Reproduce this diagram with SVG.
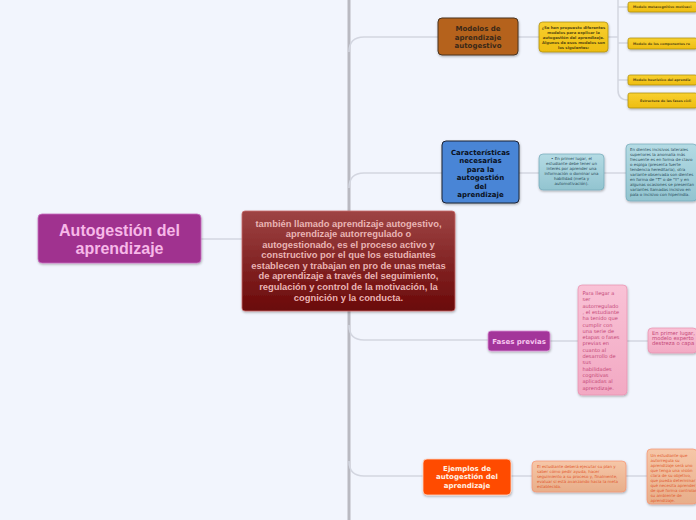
<svg xmlns="http://www.w3.org/2000/svg" width="696" height="520" viewBox="0 0 696 520">
<defs>
<linearGradient id="gRed" x1="0" y1="0" x2="0" y2="1"><stop offset="0" stop-color="#9e4444"/><stop offset="1" stop-color="#6a0808"/></linearGradient>
<linearGradient id="gTeal" x1="0" y1="0" x2="0" y2="1"><stop offset="0" stop-color="#b4dbe4"/><stop offset="1" stop-color="#92c4d0"/></linearGradient>
<linearGradient id="gPink" x1="0" y1="0" x2="0" y2="1"><stop offset="0" stop-color="#f9c2d6"/><stop offset="1" stop-color="#f2a9c3"/></linearGradient>
<linearGradient id="gPeach" x1="0" y1="0" x2="0" y2="1"><stop offset="0" stop-color="#f6c7a8"/><stop offset="1" stop-color="#e8ae8a"/></linearGradient>
<linearGradient id="gYel" x1="0" y1="0" x2="0" y2="1"><stop offset="0" stop-color="#f8d030"/><stop offset="1" stop-color="#eebd10"/></linearGradient>
<filter id="sh" x="-10%" y="-10%" width="130%" height="140%"><feDropShadow dx="0.5" dy="1.2" stdDeviation="0.8" flood-color="#000" flood-opacity="0.3"/></filter>
</defs>
<style>
.c{fill:none;stroke:#d3d6e0;stroke-width:1.5}
.t{fill:none;stroke:#b9b9c1;stroke-width:3}
.b{filter:url(#sh)}
.ds{font-family:"DejaVu Sans","Liberation Sans",sans-serif}
.ls{font-family:"Liberation Sans",Arial,sans-serif}
.cen{text-anchor:middle}
.s4{font-size:4px}
.yl{font-size:3.8px;font-weight:bold;fill:#5a4a10}
.yc{font-size:3.3px;font-weight:bold;fill:#5a4a10}
</style>
<rect width="696" height="520" fill="#f2f5fd"/>
<g id="connectors">
<line class="t" x1="349" y1="0" x2="349" y2="520"/>
<line class="c" x1="201" y1="239" x2="242" y2="239"/>
<path class="c" d="M349,52 Q349,37 364,37 H438"/>
<path class="c" d="M349,188 Q349,173 364,173 H442"/>
<path class="c" d="M349,325 Q349,340 364,340 H488"/>
<path class="c" d="M349,461 Q349,476 364,476 H423"/>
<line class="c" x1="518" y1="37" x2="539" y2="37"/>
<line class="c" x1="608" y1="37" x2="618" y2="37"/>
<path class="c" d="M618,0 V90 Q618,100 628,100"/>
<line class="c" x1="618" y1="7" x2="628" y2="7"/>
<line class="c" x1="618" y1="43" x2="628" y2="43"/>
<line class="c" x1="618" y1="80" x2="628" y2="80"/>
<line class="c" x1="519" y1="173" x2="539" y2="173"/>
<line class="c" x1="604" y1="173" x2="626" y2="173"/>
<line class="c" x1="550" y1="341" x2="578" y2="341"/>
<line class="c" x1="627" y1="341" x2="648" y2="341"/>
<line class="c" x1="511" y1="476" x2="532" y2="476"/>
<line class="c" x1="626" y1="476" x2="647" y2="476"/>
</g>
<g id="root">
<rect class="b" x="38" y="214" width="163" height="49" rx="4" fill="#a0338f" stroke="#c870c0" stroke-width="0.8"/>
<text class="ls cen" x="119.5" y="236" font-size="16" font-weight="bold" fill="#f7b8e8">Autogestión del</text>
<text class="ls cen" x="119.5" y="254" font-size="16" font-weight="bold" fill="#f7b8e8">aprendizaje</text>
</g>
<g id="central">
<rect class="b" x="242" y="211" width="213" height="100" rx="3" fill="url(#gRed)" stroke="#c86a6a" stroke-width="0.8"/>
<g class="ls cen" font-size="9.4" font-weight="bold" fill="#e9b4b4">
<text x="348.5" y="226.5">también llamado aprendizaje autogestivo,</text>
<text x="348.5" y="237">aprendizaje autorregulado o</text>
<text x="348.5" y="247.6">autogestionado, es el proceso activo y</text>
<text x="348.5" y="258.2">constructivo por el que los estudiantes</text>
<text x="348.5" y="268.8">establecen y trabajan en pro de unas metas</text>
<text x="348.5" y="279.4">de aprendizaje a través del seguimiento,</text>
<text x="348.5" y="290">regulación y control de la motivación, la</text>
<text x="348.5" y="300.5">cognición y la conducta.</text>
</g>
</g>
<g id="modelos">
<rect class="b" x="438" y="18" width="80" height="37" rx="4" fill="#b5621d" stroke="#4a3420" stroke-width="1"/>
<g class="ds cen" font-size="7" font-weight="bold" fill="#3a2818">
<text x="478" y="31">Modelos de</text>
<text x="478" y="39.5">aprendizaje</text>
<text x="478" y="48">autogestivo</text>
</g>
</g>
<g id="modelos-intro">
<rect class="b" x="539" y="22" width="69" height="30" rx="3.5" fill="url(#gYel)" stroke="#a88a10" stroke-width="0.7"/>
<g class="ds cen yl">
<text x="573.5" y="28.5">¿Se han propuesto diferentes</text>
<text x="573.5" y="33.5">modelos para explicar la</text>
<text x="573.5" y="38.5">autogestión del aprendizaje.</text>
<text x="573.5" y="43.5">Algunos de esos modelos son</text>
<text x="573.5" y="48.5">los siguientes:</text>
</g>
</g>
<g id="modelo1">
<rect class="b" x="628" y="2" width="69" height="10" rx="2" fill="url(#gYel)" stroke="#a88a10" stroke-width="0.7"/>
<text class="ds yc" x="633" y="8.3">Modelo metacognitivo motivaci</text>
</g>
<g id="modelo2">
<rect class="b" x="628" y="38" width="69" height="11" rx="2" fill="url(#gYel)" stroke="#a88a10" stroke-width="0.7"/>
<text class="ds yc" x="633" y="44.8">Modelo de los componentes re</text>
</g>
<g id="modelo3">
<rect class="b" x="628" y="75" width="69" height="10" rx="2" fill="url(#gYel)" stroke="#a88a10" stroke-width="0.7"/>
<text class="ds yc" x="633" y="81.3">Modelo heurístico del aprendiz</text>
</g>
<g id="modelo4">
<rect class="b" x="628" y="93" width="69" height="15" rx="2" fill="url(#gYel)" stroke="#a88a10" stroke-width="0.7"/>
<text class="ds yc" x="640" y="101.8">Estructura de las fases cícli</text>
</g>
<g id="caracteristicas">
<rect class="b" x="442" y="141" width="77" height="62" rx="4" fill="#4a85d6" stroke="#1a2234" stroke-width="1"/>
<g class="ds cen" font-size="7" font-weight="bold" fill="#0a1020">
<text x="480.5" y="154.5">Características</text>
<text x="480.5" y="163">necesarias</text>
<text x="480.5" y="171.5">para la</text>
<text x="480.5" y="180">autogestión</text>
<text x="480.5" y="188.5">del</text>
<text x="480.5" y="197">aprendizaje</text>
</g>
</g>
<g id="carac1">
<rect class="b" x="539" y="154" width="65" height="36" rx="4" fill="url(#gTeal)" stroke="#74a9b9" stroke-width="0.7"/>
<g class="ds cen s4" fill="#2a4a58">
<text x="571.5" y="160">• En primer lugar, el</text>
<text x="571.5" y="165">estudiante debe tener un</text>
<text x="571.5" y="170">interés por aprender una</text>
<text x="571.5" y="175">información o dominar una</text>
<text x="571.5" y="180">habilidad (meta y</text>
<text x="571.5" y="185">automotivación).</text>
</g>
</g>
<g id="carac2">
<rect class="b" x="626" y="144" width="71" height="57" rx="4" fill="url(#gTeal)" stroke="#74a9b9" stroke-width="0.7"/>
<g class="ds s4" fill="#2a4a58">
<text x="630" y="150.5">En dientes incisivos laterales</text>
<text x="630" y="155.5">superiores la anomalía más</text>
<text x="630" y="160.5">frecuente es en forma de clavo</text>
<text x="630" y="165.5">o espiga (presenta fuerte</text>
<text x="630" y="170.5">tendencia hereditaria), otra</text>
<text x="630" y="175.5">variante observada son dientes</text>
<text x="630" y="180.5">en forma de "T" o de "Y" y en</text>
<text x="630" y="185.5">algunas ocasiones se presentan</text>
<text x="630" y="190.5">variantes llamadas incisivo en</text>
<text x="630" y="195.5">pala o incisivo con hiperindia.</text>
</g>
</g>
<g id="fases">
<rect class="b" x="488" y="331" width="62" height="20" rx="3" fill="#a3349a" stroke="#d890d4" stroke-width="0.8"/>
<text class="ds cen" x="519" y="343.5" font-size="7" font-weight="bold" fill="#f7c6ef">Fases previas</text>
</g>
<g id="fases1">
<rect class="b" x="578" y="285" width="49" height="110" rx="4" fill="url(#gPink)" stroke="#e890b0" stroke-width="0.7"/>
<g class="ds" font-size="5.1" fill="#c44676">
<text x="582.5" y="295">Para llegar a</text>
<text x="582.5" y="301.3">ser</text>
<text x="582.5" y="307.6">autorregulado</text>
<text x="582.5" y="313.9">, el estudiante</text>
<text x="582.5" y="320.2">ha tenido que</text>
<text x="582.5" y="326.5">cumplir con</text>
<text x="582.5" y="332.8">una serie de</text>
<text x="582.5" y="339.1">etapas o fases</text>
<text x="582.5" y="345.4">previas en</text>
<text x="582.5" y="351.7">cuanto al</text>
<text x="582.5" y="358">desarrollo de</text>
<text x="582.5" y="364.3">sus</text>
<text x="582.5" y="370.6">habilidades</text>
<text x="582.5" y="376.9">cognitivas</text>
<text x="582.5" y="383.2">aplicadas al</text>
<text x="582.5" y="389.5">aprendizaje.</text>
</g>
</g>
<g id="fases2">
<rect class="b" x="648" y="328" width="49" height="25" rx="4" fill="url(#gPink)" stroke="#e890b0" stroke-width="0.7"/>
<g class="ds" font-size="5.3" fill="#c44676">
<text x="652" y="334.5">En primer lugar,</text>
<text x="652" y="339.5">modelo experto</text>
<text x="652" y="344.5">destreza o capa</text>
</g>
</g>
<g id="ejemplos">
<rect class="b" x="423" y="459" width="88" height="36" rx="4" fill="#ff4c00" stroke="#ffd4c4" stroke-width="0.8"/>
<g class="ds cen" font-size="7" font-weight="bold" fill="#fff2e6">
<text x="467" y="470.5">Ejemplos de</text>
<text x="467" y="479">autogestión del</text>
<text x="467" y="487.5">aprendizaje</text>
</g>
</g>
<g id="ejemplos1">
<rect class="b" x="532" y="461" width="94" height="31" rx="4" fill="url(#gPeach)" stroke="#f59372" stroke-width="0.7"/>
<g class="ds s4" fill="#e2582c">
<text x="537" y="467.5">El estudiante deberá ejecutar su plan y</text>
<text x="537" y="472.7">saber cómo pedir ayuda, hacer</text>
<text x="537" y="477.9">seguimiento a su proceso y, finalmente,</text>
<text x="537" y="483.1">evaluar si está avanzando hacia la meta</text>
<text x="537" y="488.3">establecida.</text>
</g>
</g>
<g id="ejemplos2">
<rect class="b" x="647" y="449" width="50" height="55" rx="4" fill="url(#gPeach)" stroke="#f59372" stroke-width="0.7"/>
<g class="ds s4" fill="#e2582c">
<text x="650.5" y="456.5">Un estudiante que</text>
<text x="650.5" y="461.5">autorregula su</text>
<text x="650.5" y="466.5">aprendizaje será uno</text>
<text x="650.5" y="471.5">que tenga una visión</text>
<text x="650.5" y="476.5">clara de su objetivo,</text>
<text x="650.5" y="481.5">que pueda determinar</text>
<text x="650.5" y="486.5">qué necesita aprender,</text>
<text x="650.5" y="491.5">de qué forma controlar</text>
<text x="650.5" y="496.5">su ambiente de</text>
<text x="650.5" y="501.5">aprendizaje.</text>
</g>
</g>
</svg>
